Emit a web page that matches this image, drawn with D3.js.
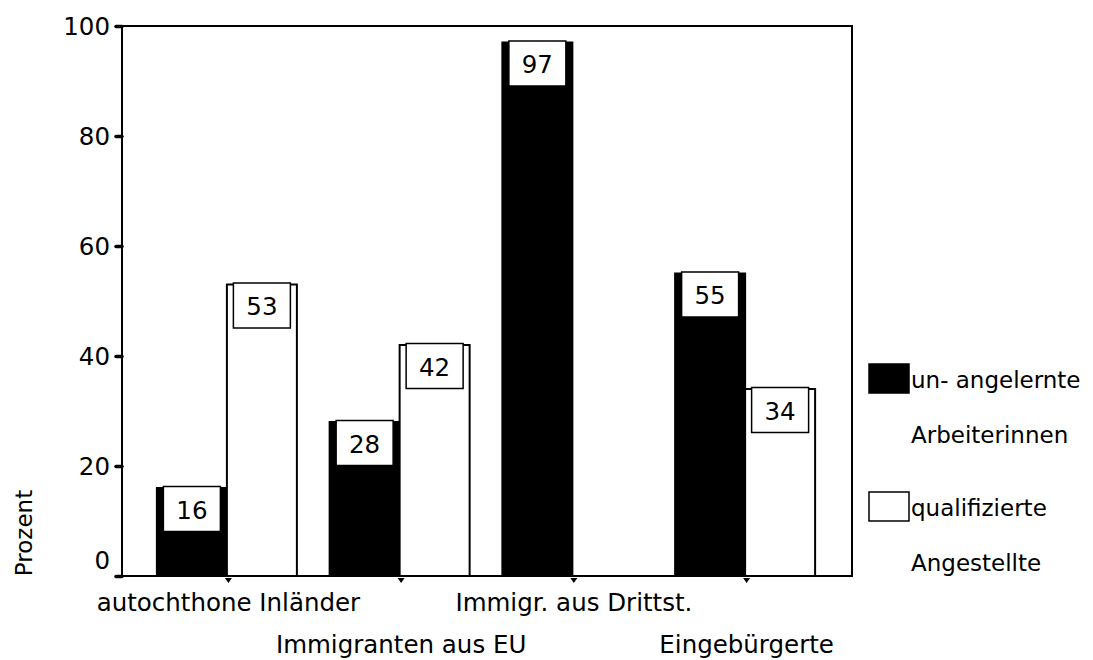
<!DOCTYPE html>
<html><head><meta charset="utf-8">
<script src="https://cdn.jsdelivr.net/npm/d3@7"></script>
<style>body{margin:0;background:#fff}svg{display:block}text{font-family:"DejaVu Sans",sans-serif;fill:#000}</style>
</head><body>
<script>
const categories = ["autochthone Inländer","Immigranten aus EU","Immigr. aus Drittst.","Eingebürgerte"];
const seriesNames = ["un- angelernte Arbeiterinnen","qualifizierte Angestellte"];
const unqualified = [16, 28, 97, 55];
const qualified = [53, 42, null, 34];
const yTicks = [0, 20, 40, 60, 80, 100];
const yTitle = "Prozent";

const W = 1093, H = 660;
const L = 122, R = 852, T = 26, B = 576;
const FS = 24.5;
const svg = d3.select("body").append("svg").attr("width", W).attr("height", H);

const x = d3.scalePoint().domain(categories).range([L, R]).padding(0.613);
const sub = d3.scaleBand().domain([0, 1]).range([-71, 69]);
const y = d3.scaleLinear().domain([0, 100]).range([B, T]);

const series = [
  {name: seriesNames[0], values: unqualified, fill: "#000"},
  {name: seriesNames[1], values: qualified, fill: "#fff"}
];

// bars
series.forEach((s, si) => {
  const g = svg.append("g");
  const data = categories.map((c, i) => ({c, v: s.values[i]})).filter(d => d.v != null);
  g.selectAll("rect").data(data).join("rect")
    .attr("x", d => x(d.c) + sub(si))
    .attr("y", d => y(d.v))
    .attr("width", sub.bandwidth())
    .attr("height", d => y(0) - y(d.v))
    .attr("fill", s.fill).attr("stroke", "#000").attr("stroke-width", 2);
});

// frame
svg.append("rect").attr("x", L).attr("y", T).attr("width", R - L).attr("height", B - T)
  .attr("fill", "none").attr("stroke", "#000").attr("stroke-width", 2);

// value boxes
series.forEach((s, si) => {
  const data = categories.map((c, i) => ({c, v: s.values[i]})).filter(d => d.v != null);
  const g = svg.append("g").selectAll("g").data(data).join("g")
    .attr("transform", d => `translate(${x(d.c) + sub(si) + sub.bandwidth() / 2},${y(d.v) - 1.5})`);
  g.append("rect").attr("x", -28.5).attr("y", 0).attr("width", 57).attr("height", 45)
    .attr("fill", "#fff").attr("stroke", "#000").attr("stroke-width", 1.5);
  g.append("text").attr("x", 0).attr("y", 32).attr("text-anchor", "middle")
    .style("font-size", FS + "px").text(d => d.v);
});

// y axis ticks + labels
const yAxis = d3.axisLeft(y).tickValues(yTicks).tickSize(6).tickPadding(6);
const ya = svg.append("g").attr("transform", `translate(${L},0)`).call(yAxis);
ya.select(".domain").remove();
ya.selectAll(".tick line").attr("stroke", "#000").attr("stroke-width", 3.5).attr("stroke-linecap", "round");
ya.selectAll(".tick text").style("font-size", FS + "px").attr("font-family", null)
  .attr("dy", d => d === 0 ? "-0.3em" : "0.36em");

// x axis ticks + labels (staggered)
const xAxis = d3.axisBottom(x).tickSize(0).tickPadding(0);
const xa = svg.append("g").attr("transform", `translate(0,${B})`).call(xAxis);
xa.select(".domain").remove();
xa.selectAll(".tick").append("path").attr("d", "M-3.5,2L3.5,2L0,7Z").attr("fill", "#000");
xa.selectAll(".tick text").style("font-size", FS + "px").attr("font-family", null)
  .attr("y", (d, i) => i % 2 === 0 ? 35 : 77).attr("dy", 0);

// y title
svg.append("text").attr("transform", `translate(32,533) rotate(-90)`)
  .attr("text-anchor", "middle").style("font-size", "23px").text(yTitle);

// legend
const legY = [364, 492];
series.forEach((s, si) => {
  svg.append("rect").attr("x", 869).attr("y", legY[si]).attr("width", 40).attr("height", 29)
    .attr("fill", s.fill).attr("stroke", "#000").attr("stroke-width", 1.5);
  const words = s.name.split(" ");
  const line1 = si === 0 ? words.slice(0, 2).join(" ") : words[0];
  const line2 = si === 0 ? words.slice(2).join(" ") : words.slice(1).join(" ");
  svg.append("text").attr("x", 911).attr("y", legY[si] + 24).style("font-size", "23px").text(line1);
  svg.append("text").attr("x", 911).attr("y", legY[si] + 79).style("font-size", "23px").text(line2);
});
</script>
</body></html>
